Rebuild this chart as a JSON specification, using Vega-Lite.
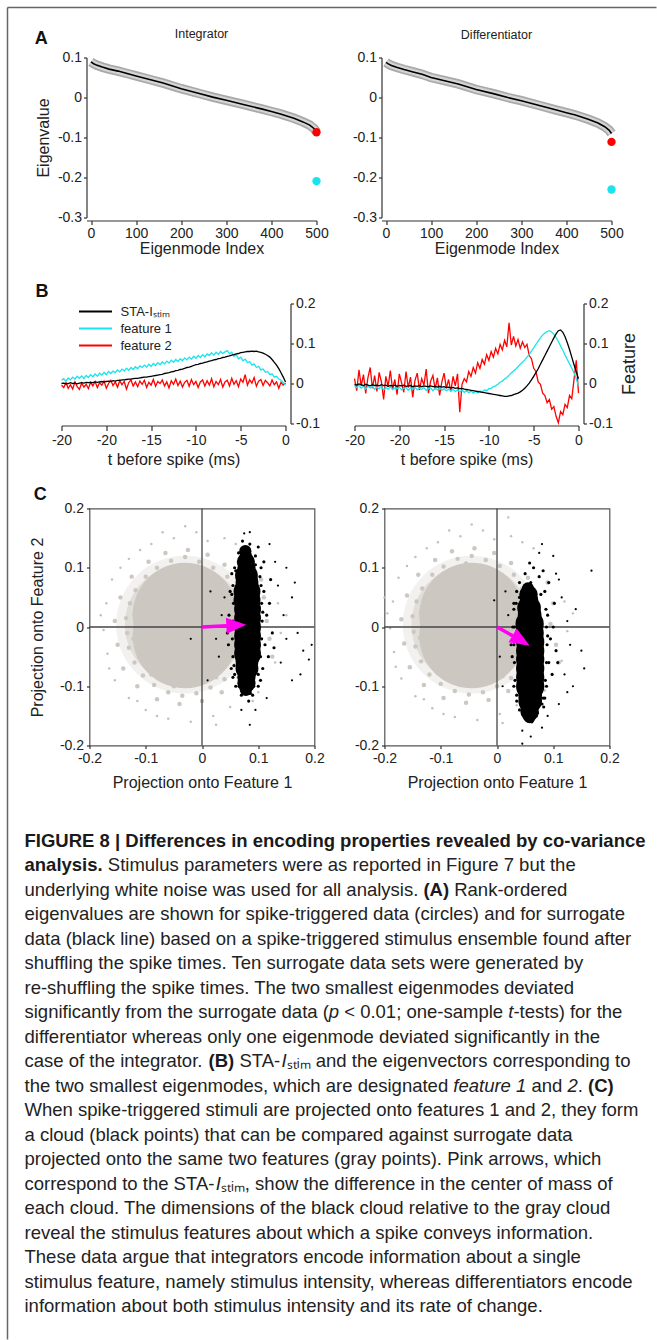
{
"$schema": "https://vega.github.io/schema/vega-lite/v6.json",
"padding": {"left": 6.5, "top": 6.5, "right": 0, "bottom": 0},
"background": "white",
"spacing": 0,
"bounds": "flush",
"resolve": {"scale": {"color": "independent"}, "legend": {"color": "independent"}},
"config": {
  "view": {"stroke": null},
  "font": "Liberation Sans",
  "axis": {"grid": false, "domainColor": "#333", "domainWidth": 1.2, "tickColor": "#333", "tickWidth": 1.2, "tickSize": 4, "labelFont": "Liberation Sans", "labelFontSize": 14, "labelColor": "#222", "labelPadding": 2, "labelFlush": false, "labelOverlap": false, "labelSeparation": 0, "titleFont": "Liberation Sans", "titleFontSize": 16, "titleFontWeight": "normal", "titleColor": "#222"},
  "axisY": {"labelOverlap": false},
  "axisQuantitative": {"labelOverlap": false},
  "title": {"font": "Liberation Sans", "color": "#222"},
  "legend": {"labelFont": "Liberation Sans"},
  "text": {"font": "Liberation Sans", "fontSize": 18.5, "align": "left", "baseline": "middle", "color": "#222"}
},
"hconcat": [
  {"width": 1, "height": 1332, "data": {"values": [{"d": 0}]}, "layer": [
    {"mark": {"type": "rule", "color": "#666", "strokeWidth": 1.5}, "encoding": {"x": {"datum": 0, "type": "quantitative", "scale": {"domain": [0, 1]}, "axis": null}}},
    {"mark": {"type": "rule", "color": "#666", "strokeWidth": 1.5}, "encoding": {"x": {"datum": 0, "type": "quantitative"}, "x2": {"datum": 649}, "y": {"datum": 1, "type": "quantitative", "scale": {"domain": [0, 1]}, "axis": null}}}
  ]},
  {"vconcat": [
    {"width": 1, "height": 1, "data": {"values": [{"d": 0}]}, "mark": {"type": "point", "opacity": 0, "size": 1}},

    {"hconcat": [
      {"width": 78, "height": 160, "data": {"values": [{"d": 0}]}, "layer": [
        {"mark": {"type": "rule", "opacity": 0, "strokeOpacity": 0}, "encoding": {"x": {"datum": 0, "type": "quantitative", "scale": {"domain": [0, 78]}, "axis": null}, "y": {"datum": -49, "type": "quantitative", "scale": {"domain": [0, 160], "reverse": true, "nice": false}, "axis": null}, "y2": {"datum": 206}}},
        {"mark": {"type": "text", "text": "A", "fontSize": 18, "fontWeight": "bold", "align": "left", "baseline": "middle", "color": "#111"}, "encoding": {"x": {"datum": 27, "type": "quantitative"}, "y": {"datum": -19, "type": "quantitative"}}}
      ]},
      {"width": 230, "height": 160,
       "title": {"text": "Integrator", "fontSize": 12.5, "fontWeight": "normal", "offset": 2, "anchor": "middle"},
       "data": {"values": "idx,eig\n0,0.089\n5,0.085\n12,0.081\n25,0.076\n40,0.071\n60,0.066\n80,0.060\n100,0.054\n130,0.045\n160,0.036\n200,0.022\n240,0.010\n270,0.001\n300,-0.007\n340,-0.018\n380,-0.029\n400,-0.035\n420,-0.041\n450,-0.052\n470,-0.061\n485,-0.069\n495,-0.078\n500,-0.086", "format": {"type": "csv", "parse": {"idx": "number", "eig": "number"}}},
       "layer": [
        {"mark": {"type": "line", "color": "#a9a9a9", "strokeWidth": 9.5},
         "encoding": {
          "x": {"field": "idx", "type": "quantitative", "scale": {"domain": [-10, 500], "nice": false, "zero": false}, "axis": {"values": [0, 100, 200, 300, 400, 500], "title": "Eigenmode Index", "offset": 3, "titlePadding": 0, "labelOverlap": false}},
          "y": {"field": "eig", "type": "quantitative", "scale": {"domain": [-0.3, 0.1], "nice": false, "zero": false}, "axis": {"tickCount": 5, "title": "Eigenvalue", "tickSize": 3, "titlePadding": 6, "labelOverlap": false, "labelSeparation": 0, "labelExpr": "(datum.value < 0 ? '-' : '') + format(abs(datum.value), '~g')"}}}},
        {"mark": {"type": "line", "color": "#d4d4d4", "strokeWidth": 6}, "encoding": {"x": {"field": "idx", "type": "quantitative"}, "y": {"field": "eig", "type": "quantitative"}}},
        {"mark": {"type": "line", "color": "#000", "strokeWidth": 1.6}, "encoding": {"x": {"field": "idx", "type": "quantitative"}, "y": {"field": "eig", "type": "quantitative"}}},
        {"data": {"values": [{"idx": 500, "eig": -0.087, "mode": "f2"}, {"idx": 500, "eig": -0.209, "mode": "f1"}]},
         "mark": {"type": "circle", "size": 70, "opacity": 1},
         "encoding": {"x": {"field": "idx", "type": "quantitative"}, "y": {"field": "eig", "type": "quantitative"}, "color": {"field": "mode", "type": "nominal", "scale": {"domain": ["sta", "f1", "f2"], "range": ["#000000", "#18e4ee", "#ff0000"]}, "legend": null}}}
       ]},
      {"width": 65, "height": 1, "data": {"values": [{"d": 0}]}, "mark": {"type": "point", "opacity": 0, "size": 1}},
      {"width": 230, "height": 160,
       "title": {"text": "Differentiator", "fontSize": 12.5, "fontWeight": "normal", "offset": 2, "anchor": "middle"},
       "data": {"values": "idx,eig\n0,0.088\n5,0.084\n12,0.080\n25,0.075\n40,0.070\n60,0.064\n80,0.058\n100,0.050\n130,0.042\n160,0.034\n200,0.020\n240,0.009\n270,0.000\n300,-0.008\n340,-0.020\n380,-0.032\n400,-0.038\n420,-0.044\n450,-0.055\n470,-0.064\n485,-0.073\n495,-0.082\n500,-0.090", "format": {"type": "csv", "parse": {"idx": "number", "eig": "number"}}},
       "layer": [
        {"mark": {"type": "line", "color": "#a9a9a9", "strokeWidth": 9.5},
         "encoding": {
          "x": {"field": "idx", "type": "quantitative", "scale": {"domain": [-10, 500], "nice": false, "zero": false}, "axis": {"values": [0, 100, 200, 300, 400, 500], "title": "Eigenmode Index", "offset": 3, "titlePadding": 0, "labelOverlap": false}},
          "y": {"field": "eig", "type": "quantitative", "scale": {"domain": [-0.3, 0.1], "nice": false, "zero": false}, "axis": {"tickCount": 5, "title": null, "tickSize": 3, "labelOverlap": false, "labelSeparation": 0, "labelExpr": "(datum.value < 0 ? '-' : '') + format(abs(datum.value), '~g')"}}}},
        {"mark": {"type": "line", "color": "#d4d4d4", "strokeWidth": 6}, "encoding": {"x": {"field": "idx", "type": "quantitative"}, "y": {"field": "eig", "type": "quantitative"}}},
        {"mark": {"type": "line", "color": "#000", "strokeWidth": 1.6}, "encoding": {"x": {"field": "idx", "type": "quantitative"}, "y": {"field": "eig", "type": "quantitative"}}},
        {"data": {"values": [{"idx": 500, "eig": -0.111, "mode": "f2"}, {"idx": 500, "eig": -0.230, "mode": "f1"}]},
         "mark": {"type": "circle", "size": 70, "opacity": 1},
         "encoding": {"x": {"field": "idx", "type": "quantitative"}, "y": {"field": "eig", "type": "quantitative"}, "color": {"field": "mode", "type": "nominal", "scale": {"domain": ["sta", "f1", "f2"], "range": ["#000000", "#18e4ee", "#ff0000"]}, "legend": null}}}
       ]}
    ], "spacing": 0, "bounds": "flush", "resolve": {"scale": {"color": "independent"}, "legend": {"color": "independent"}}},

    {"hconcat": [
      {"width": 53, "height": 120, "data": {"values": [{"d": 0}]}, "layer": [
        {"mark": {"type": "rule", "opacity": 0, "strokeOpacity": 0}, "encoding": {"x": {"datum": 0, "type": "quantitative", "scale": {"domain": [0, 53]}, "axis": null}, "y": {"datum": -40, "type": "quantitative", "scale": {"domain": [0, 120], "reverse": true, "nice": false}, "axis": null}, "y2": {"datum": 174}}},
        {"mark": {"type": "text", "text": "B", "fontSize": 18, "fontWeight": "bold", "align": "left", "baseline": "middle", "color": "#111"}, "encoding": {"x": {"datum": 28, "type": "quantitative"}, "y": {"datum": -12, "type": "quantitative"}}}
      ]},
      {"width": 224, "height": 120,
       "data": {"values": "t,sta,f1,f2\n-25,0.000,0.008,-0.004\n-24.75,0.001,0.012,-0.010\n-24.5,-0.001,0.006,0.002\n-24.25,0.000,0.014,-0.012\n-24,0.002,0.009,-0.003\n-23.75,0.000,0.016,-0.014\n-23.5,0.001,0.011,0.004\n-23.25,-0.001,0.018,-0.008\n-23,0.001,0.013,-0.015\n-22.75,0.002,0.019,0.001\n-22.5,0.001,0.012,-0.009\n-22.25,0.003,0.020,-0.002\n-22,0.002,0.015,-0.013\n-21.75,0.003,0.022,0.003\n-21.5,0.002,0.017,-0.006\n-21.25,0.004,0.024,0.005\n-21,0.003,0.018,-0.010\n-20.75,0.004,0.026,0.002\n-20.5,0.005,0.021,-0.004\n-20.25,0.004,0.028,0.006\n-20,0.005,0.022,-0.012\n-19.75,0.006,0.030,0.000\n-19.5,0.005,0.025,0.008\n-19.25,0.007,0.031,-0.005\n-19,0.006,0.027,0.004\n-18.75,0.008,0.034,-0.009\n-18.5,0.008,0.029,0.007\n-18.25,0.009,0.036,-0.003\n-18,0.009,0.031,0.005\n-17.75,0.010,0.038,-0.014\n-17.5,0.011,0.033,0.002\n-17.25,0.011,0.040,0.009\n-17,0.012,0.035,-0.006\n-16.75,0.013,0.042,0.004\n-16.5,0.013,0.037,-0.008\n-16.25,0.014,0.044,0.006\n-16,0.015,0.040,-0.002\n-15.75,0.016,0.046,0.008\n-15.5,0.016,0.041,-0.010\n-15.25,0.017,0.048,0.003\n-15,0.018,0.043,-0.004\n-14.75,0.019,0.050,0.010\n-14.5,0.020,0.045,-0.007\n-14.25,0.021,0.052,0.005\n-14,0.022,0.047,0.000\n-13.75,0.023,0.054,0.009\n-13.5,0.025,0.049,-0.006\n-13.25,0.026,0.056,0.004\n-13,0.027,0.051,-0.011\n-12.75,0.029,0.058,0.007\n-12.5,0.030,0.053,-0.002\n-12.25,0.032,0.060,0.011\n-12,0.033,0.055,-0.005\n-11.75,0.035,0.062,0.006\n-11.5,0.036,0.057,-0.009\n-11.25,0.038,0.064,0.003\n-11,0.040,0.059,0.008\n-10.75,0.041,0.066,-0.007\n-10.5,0.043,0.061,0.010\n-10.25,0.045,0.068,-0.003\n-10,0.047,0.063,0.005\n-9.75,0.048,0.070,-0.010\n-9.5,0.050,0.065,0.004\n-9.25,0.051,0.072,0.009\n-9,0.053,0.067,-0.006\n-8.75,0.054,0.074,0.007\n-8.5,0.056,0.070,-0.004\n-8.25,0.057,0.077,0.012\n-8,0.059,0.071,-0.008\n-7.75,0.060,0.078,0.005\n-7.5,0.062,0.073,-0.003\n-7.25,0.063,0.080,0.010\n-7,0.065,0.075,-0.009\n-6.75,0.066,0.079,0.004\n-6.5,0.068,0.082,0.008\n-6.25,0.069,0.074,-0.006\n-6,0.071,0.078,0.013\n-5.75,0.072,0.068,-0.002\n-5.5,0.074,0.072,0.007\n-5.25,0.075,0.062,-0.008\n-5,0.077,0.066,0.011\n-4.75,0.078,0.057,0.003\n-4.5,0.079,0.061,0.022\n-4.25,0.080,0.052,-0.004\n-4,0.080,0.055,0.009\n-3.75,0.081,0.046,0.001\n-3.5,0.080,0.049,0.015\n-3.25,0.081,0.040,-0.007\n-3,0.079,0.043,0.006\n-2.75,0.078,0.034,0.010\n-2.5,0.076,0.036,-0.005\n-2.25,0.073,0.028,0.008\n-2,0.070,0.030,0.002\n-1.75,0.066,0.022,-0.006\n-1.5,0.060,0.024,0.009\n-1.25,0.053,0.016,-0.003\n-1,0.046,0.018,0.004\n-0.75,0.037,0.011,-0.012\n-0.5,0.027,0.008,0.003\n-0.25,0.016,0.002,-0.004\n0,0.004,-0.004,0.001", "format": {"type": "csv", "parse": {"t": "number", "sta": "number", "f1": "number", "f2": "number"}}},
       "transform": [{"fold": ["f2", "f1", "sta"], "as": ["series", "v"]}],
       "mark": {"type": "line", "strokeWidth": 1.3},
       "encoding": {
        "x": {"field": "t", "type": "quantitative", "scale": {"domain": [-25, 0], "nice": false}, "axis": {"values": [-25, -20, -15, -10, -5, 0], "title": "t before spike (ms)", "offset": 2, "tickSize": 5, "labelPadding": 3, "titlePadding": 4, "labelOverlap": false, "labelExpr": "datum.value == -25 ? '-20' : (datum.value < 0 ? '-' : '') + format(abs(datum.value), '~g')"}},
        "y": {"field": "v", "type": "quantitative", "scale": {"domain": [-0.1, 0.2], "nice": false}, "axis": {"orient": "right", "values": [-0.1, 0, 0.1, 0.2], "title": null, "offset": 5, "tickSize": 3, "labelOverlap": false, "labelExpr": "(datum.value < 0 ? '-' : '') + format(abs(datum.value), '~g')"}},
        "color": {"field": "series", "type": "nominal", "scale": {"domain": ["sta", "f1", "f2"], "range": ["#000000", "#18e4ee", "#ff0000"]},
          "legend": {"orient": "none", "legendX": 27, "legendY": 1, "title": null, "symbolType": "M-3,0L3,0", "symbolSize": 121, "symbolStrokeWidth": 2.2, "labelFontSize": 13, "labelColor": "#222", "labelOffset": 18, "rowPadding": 3, "padding": 0, "labelExpr": "datum.value == 'sta' ? 'STA-Iₛₜᵢₘ' : datum.value == 'f1' ? 'feature 1' : 'feature 2'"}}
       }},
      {"width": 69, "height": 1, "data": {"values": [{"d": 0}]}, "mark": {"type": "point", "opacity": 0, "size": 1}},
      {"width": 224, "height": 120,
       "data": {"values": "t,sta,f1,f2\n-25,-0.002,-0.005,0.012\n-24.75,-0.004,-0.010,-0.018\n-24.5,-0.001,-0.004,0.034\n-24.25,-0.003,-0.012,-0.006\n-24,-0.005,-0.007,0.022\n-23.75,-0.002,-0.014,-0.025\n-23.5,-0.004,-0.006,0.015\n-23.25,-0.006,-0.011,0.040\n-23,-0.003,-0.008,-0.012\n-22.75,-0.005,-0.015,0.020\n-22.5,-0.004,-0.009,-0.020\n-22.25,-0.006,-0.013,0.028\n-22,-0.003,-0.007,0.005\n-21.75,-0.005,-0.016,-0.040\n-21.5,-0.004,-0.010,0.018\n-21.25,-0.007,-0.014,-0.008\n-21,-0.005,-0.008,0.032\n-20.75,-0.006,-0.015,-0.015\n-20.5,-0.004,-0.011,0.010\n-20.25,-0.007,-0.013,-0.028\n-20,-0.005,-0.009,0.024\n-19.75,-0.006,-0.016,0.002\n-19.5,-0.004,-0.012,-0.022\n-19.25,-0.007,-0.010,0.030\n-19,-0.006,-0.017,-0.010\n-18.75,-0.005,-0.011,0.016\n-18.5,-0.008,-0.014,-0.034\n-18.25,-0.006,-0.009,0.008\n-18,-0.007,-0.016,0.026\n-17.75,-0.005,-0.012,-0.016\n-17.5,-0.008,-0.015,0.012\n-17.25,-0.006,-0.010,-0.004\n-17,-0.007,-0.017,0.036\n-16.75,-0.008,-0.013,-0.024\n-16.5,-0.006,-0.011,0.006\n-16.25,-0.008,-0.018,0.020\n-16,-0.007,-0.012,-0.014\n-15.75,-0.009,-0.016,0.014\n-15.5,-0.007,-0.011,-0.030\n-15.25,-0.009,-0.017,0.004\n-15,-0.008,-0.013,0.026\n-14.75,-0.010,-0.018,-0.012\n-14.5,-0.009,-0.014,0.010\n-14.25,-0.011,-0.019,-0.020\n-14,-0.010,-0.015,0.018\n-13.75,-0.012,-0.020,-0.006\n-13.5,-0.011,-0.016,0.024\n-13.25,-0.013,-0.021,-0.072\n-13,-0.012,-0.017,-0.002\n-12.75,-0.014,-0.022,0.012\n-12.5,-0.015,-0.018,0.004\n-12.25,-0.016,-0.023,0.030\n-12,-0.017,-0.019,0.018\n-11.75,-0.018,-0.024,0.040\n-11.5,-0.019,-0.020,0.026\n-11.25,-0.020,-0.023,0.052\n-11,-0.021,-0.019,0.038\n-10.75,-0.022,-0.021,0.060\n-10.5,-0.023,-0.016,0.048\n-10.25,-0.024,-0.018,0.072\n-10,-0.025,-0.013,0.058\n-9.75,-0.026,-0.012,0.080\n-9.5,-0.027,-0.008,0.066\n-9.25,-0.028,-0.006,0.088\n-9,-0.029,-0.002,0.074\n-8.75,-0.030,0.003,0.098\n-8.5,-0.031,0.006,0.084\n-8.25,-0.032,0.011,0.108\n-8,-0.032,0.015,0.092\n-7.75,-0.031,0.021,0.152\n-7.5,-0.030,0.026,0.096\n-7.25,-0.028,0.031,0.118\n-7,-0.026,0.036,0.094\n-6.75,-0.024,0.042,0.110\n-6.5,-0.021,0.048,0.088\n-6.25,-0.017,0.053,0.104\n-6,-0.012,0.059,0.090\n-5.75,-0.006,0.066,0.098\n-5.5,0.001,0.073,0.070\n-5.25,0.009,0.081,0.062\n-5,0.018,0.089,0.038\n-4.75,0.027,0.098,0.030\n-4.5,0.037,0.106,0.004\n-4.25,0.048,0.114,-0.002\n-4,0.059,0.121,-0.024\n-3.75,0.070,0.126,-0.030\n-3.5,0.081,0.130,-0.048\n-3.25,0.092,0.132,-0.040\n-3,0.103,0.129,-0.064\n-2.75,0.114,0.123,-0.058\n-2.5,0.124,0.115,-0.082\n-2.25,0.132,0.105,-0.098\n-2,0.134,0.094,-0.070\n-1.75,0.128,0.083,-0.078\n-1.5,0.117,0.071,-0.052\n-1.25,0.102,0.060,-0.060\n-1,0.085,0.049,-0.030\n-0.75,0.066,0.038,-0.038\n-0.5,0.047,0.026,0.010\n-0.25,0.029,0.012,0.058\n0,0.012,-0.006,-0.024", "format": {"type": "csv", "parse": {"t": "number", "sta": "number", "f1": "number", "f2": "number"}}},
       "transform": [{"fold": ["f2", "f1", "sta"], "as": ["series", "v"]}],
       "mark": {"type": "line", "strokeWidth": 1.3},
       "encoding": {
        "x": {"field": "t", "type": "quantitative", "scale": {"domain": [-25, 0], "nice": false}, "axis": {"values": [-25, -20, -15, -10, -5, 0], "title": "t before spike (ms)", "offset": 2, "tickSize": 5, "labelPadding": 3, "titlePadding": 4, "labelOverlap": false, "labelExpr": "datum.value == -25 ? '-20' : (datum.value < 0 ? '-' : '') + format(abs(datum.value), '~g')"}},
        "y": {"field": "v", "type": "quantitative", "scale": {"domain": [-0.1, 0.2], "nice": false}, "axis": {"orient": "right", "values": [-0.1, 0, 0.1, 0.2], "title": "Feature", "titleAngle": 270, "titleBaseline": "top", "titlePadding": 8, "titleFontSize": 18, "offset": 5, "tickSize": 3, "labelOverlap": false, "labelExpr": "(datum.value < 0 ? '-' : '') + format(abs(datum.value), '~g')"}},
        "color": {"field": "series", "type": "nominal", "scale": {"domain": ["sta", "f1", "f2"], "range": ["#000000", "#18e4ee", "#ff0000"]}, "legend": null}
       }}
    ], "spacing": 0, "bounds": "flush", "resolve": {"scale": {"color": "independent"}, "legend": {"color": "independent"}}},

    {"hconcat": [
      {"width": 81, "height": 237, "data": {"values": [{"d": 0}]}, "layer": [
        {"mark": {"type": "rule", "opacity": 0, "strokeOpacity": 0}, "encoding": {"x": {"datum": 0, "type": "quantitative", "scale": {"domain": [0, 81]}, "axis": null}, "y": {"datum": -30, "type": "quantitative", "scale": {"domain": [0, 237], "reverse": true, "nice": false}, "axis": null}, "y2": {"datum": 295}}},
        {"mark": {"type": "text", "text": "C", "fontSize": 18, "fontWeight": "bold", "align": "left", "baseline": "middle", "color": "#111"}, "encoding": {"x": {"datum": 28, "type": "quantitative"}, "y": {"datum": -14, "type": "quantitative"}}}
      ]},
      {"width": 225, "height": 237, "view": {"stroke": "#555", "strokeWidth": 1.2},
       "layer": [
        {"data": {"values": "x,y\n-0.03,0.004", "format": {"type": "csv", "parse": {"x": "number", "y": "number"}}},
         "mark": {"type": "circle", "size": 19000, "color": "#ccc8c1", "opacity": 0.25},
         "encoding": {
          "x": {"field": "x", "type": "quantitative", "scale": {"domain": [-0.2, 0.2], "nice": false}, "axis": {"values": [-0.2, -0.1, 0, 0.1, 0.2], "title": "Projection onto Feature 1", "domain": false, "tickSize": 3, "labelPadding": 3, "titlePadding": 9, "labelOverlap": false, "labelExpr": "(datum.value < 0 ? '-' : '') + format(abs(datum.value), '~g')"}},
          "y": {"field": "y", "type": "quantitative", "scale": {"domain": [-0.2, 0.2], "nice": false}, "axis": {"values": [-0.2, -0.1, 0, 0.1, 0.2], "title": "Projection onto Feature 2", "domain": false, "tickSize": 3, "labelPadding": 3, "titlePadding": 14, "labelOverlap": false, "labelExpr": "(datum.value < 0 ? '-' : '') + format(abs(datum.value), '~g')"}}}},
        {"data": {"values": "x,y\n-0.03,0.004", "format": {"type": "csv", "parse": {"x": "number", "y": "number"}}},
         "mark": {"type": "circle", "size": 14500, "color": "#ccc8c1", "opacity": 0.45},
         "encoding": {"x": {"field": "x", "type": "quantitative"}, "y": {"field": "y", "type": "quantitative"}}},
        {"data": {"values": "x,y\n-0.03,0.02\n-0.03,-0.015", "format": {"type": "csv", "parse": {"x": "number", "y": "number"}}},
         "mark": {"type": "circle", "size": 11000, "color": "#ccc8c1", "opacity": 1},
         "encoding": {"x": {"field": "x", "type": "quantitative"}, "y": {"field": "y", "type": "quantitative"}}},
        {"data": {"values": "x,y\n0.06,0.06\n0.045,0.085\n0.02,0.1\n-0.005,0.11\n-0.03,0.118\n-0.055,0.112\n-0.08,0.1\n-0.1,0.085\n-0.118,0.062\n-0.128,0.04\n-0.135,0.015\n-0.133,-0.01\n-0.13,-0.035\n-0.12,-0.06\n-0.105,-0.082\n-0.085,-0.098\n-0.06,-0.11\n-0.035,-0.116\n-0.01,-0.112\n0.015,-0.102\n0.04,-0.088\n0.058,-0.065\n0.05,0.04\n0.03,0.08\n0,0.095\n-0.04,0.104\n-0.075,0.088\n-0.105,0.05\n-0.12,0.02\n-0.122,-0.02\n-0.112,-0.05\n-0.09,-0.08\n-0.05,-0.1\n-0.015,-0.098\n0.025,-0.085\n0.048,-0.045\n0.07,0.08\n0.04,0.105\n0.01,0.122\n-0.025,0.13\n-0.065,0.125\n-0.095,0.11\n-0.125,0.085\n-0.145,0.05\n-0.155,0.01\n-0.15,-0.03\n-0.14,-0.07\n-0.115,-0.1\n-0.08,-0.122\n-0.04,-0.13\n0,-0.125\n0.035,-0.11\n0.065,-0.085\n0.11,0.05\n0.12,-0.02\n0.115,0.01\n0.125,-0.05\n0.105,0.08", "format": {"type": "csv", "parse": {"x": "number", "y": "number"}}},
         "mark": {"type": "circle", "size": 20, "color": "#ccc8c1", "opacity": 1},
         "encoding": {"x": {"field": "x", "type": "quantitative"}, "y": {"field": "y", "type": "quantitative"}}},
        {"data": {"values": "x,y\n0.04,0.15\n-0.01,0.16\n-0.05,0.15\n-0.09,0.14\n-0.13,0.115\n-0.16,0.08\n-0.17,0.04\n-0.175,-0.005\n-0.168,-0.045\n-0.155,-0.09\n-0.13,-0.12\n-0.1,-0.14\n-0.06,-0.155\n-0.02,-0.16\n0.02,-0.15\n0.05,-0.135\n0.08,0.13\n0.06,0.14\n0.135,0.04\n0.14,-0.01\n0.13,-0.06\n0.1,-0.11\n-0.11,0.13\n-0.145,0.1\n-0.18,0.02\n-0.165,-0.07\n-0.08,-0.15\n0.01,0.145\n-0.03,0.17\n-0.115,-0.125\n0.15,0.02\n0.09,-0.125\n-0.07,0.16\n0.025,-0.165", "format": {"type": "csv", "parse": {"x": "number", "y": "number"}}},
         "mark": {"type": "circle", "size": 6, "color": "#c4c0b8", "opacity": 1},
         "encoding": {"x": {"field": "x", "type": "quantitative"}, "y": {"field": "y", "type": "quantitative"}}},
        {"data": {"values": [{"d": 0}]}, "mark": {"type": "rule", "color": "#444", "strokeWidth": 1.3}, "encoding": {"x": {"datum": 0, "type": "quantitative"}}},
        {"data": {"values": [{"d": 0}]}, "mark": {"type": "rule", "color": "#444", "strokeWidth": 1.3}, "encoding": {"y": {"datum": 0, "type": "quantitative"}}},
        {"data": {"values": "x,y\n0.081,-0.045\n0.081,-0.03\n0.081,-0.015\n0.081,0\n0.081,0.015\n0.081,0.03\n0.08,0.045\n0.08,0.06", "format": {"type": "csv", "parse": {"x": "number", "y": "number"}}},
         "mark": {"type": "circle", "size": 720, "color": "#000", "opacity": 1},
         "encoding": {"x": {"field": "x", "type": "quantitative"}, "y": {"field": "y", "type": "quantitative"}}},
        {"data": {"values": "x,y\n0.08,-0.07\n0.08,-0.058\n0.08,0.075\n0.079,0.087", "format": {"type": "csv", "parse": {"x": "number", "y": "number"}}},
         "mark": {"type": "circle", "size": 520, "color": "#000", "opacity": 1},
         "encoding": {"x": {"field": "x", "type": "quantitative"}, "y": {"field": "y", "type": "quantitative"}}},
        {"data": {"values": "x,y\n0.079,-0.085\n0.079,-0.095\n0.079,0.1\n0.078,0.11", "format": {"type": "csv", "parse": {"x": "number", "y": "number"}}},
         "mark": {"type": "circle", "size": 330, "color": "#000", "opacity": 1},
         "encoding": {"x": {"field": "x", "type": "quantitative"}, "y": {"field": "y", "type": "quantitative"}}},
        {"data": {"values": "x,y\n0.078,-0.106\n0.078,0.12\n0.077,0.128", "format": {"type": "csv", "parse": {"x": "number", "y": "number"}}},
         "mark": {"type": "circle", "size": 150, "color": "#000", "opacity": 1},
         "encoding": {"x": {"field": "x", "type": "quantitative"}, "y": {"field": "y", "type": "quantitative"}}},
        {"data": {"values": "x,y\n0.055,0.07\n0.056,0.04\n0.055,0.01\n0.054,-0.02\n0.055,-0.05\n0.058,-0.08\n0.06,0.095\n0.105,0.07\n0.106,0.04\n0.107,0.01\n0.106,-0.02\n0.104,-0.05\n0.1,-0.08\n0.095,0.105\n0.066,0.11\n0.092,-0.1\n0.066,-0.1\n0.084,0.12\n0.072,0.12\n0.086,-0.112\n0.053,0.055\n0.057,-0.065\n0.108,0.025\n0.103,0.085\n0.05,0.06\n0.048,0.02\n0.047,-0.03\n0.052,-0.07\n0.058,0.1\n0.06,-0.1\n0.105,0.1\n0.11,0.06\n0.115,0.02\n0.112,-0.03\n0.108,-0.07\n0.1,-0.1\n0.095,0.12\n0.065,0.125\n0.09,-0.115\n0.07,-0.115\n0.12,0.04\n0.125,-0.01\n0.118,-0.05\n0.053,0.09\n0.045,-0.01\n0.055,-0.085\n0.1,0.135\n0.085,0.14\n0.072,0.145\n0.11,0.11\n0.122,0.08\n0.128,-0.035\n0.104,-0.09\n0.083,-0.125", "format": {"type": "csv", "parse": {"x": "number", "y": "number"}}},
         "mark": {"type": "circle", "size": 10, "color": "#000", "opacity": 1},
         "encoding": {"x": {"field": "x", "type": "quantitative"}, "y": {"field": "y", "type": "quantitative"}}},
        {"data": {"values": "x,y\n0.135,0.07\n0.145,0.02\n0.15,-0.02\n0.14,-0.06\n0.16,0.05\n0.17,-0.01\n0.18,-0.04\n0.19,-0.055\n0.175,-0.08\n0.15,0.1\n0.13,0.11\n0.085,0.16\n0.075,0.158\n0.12,0.14\n0.04,0.05\n0.03,-0.05\n0.015,0.06\n0.01,-0.09\n-0.02,-0.02\n0.07,-0.14\n0.085,-0.165\n0.095,-0.14\n0.115,-0.12\n0.16,-0.09\n0.195,-0.03\n0.165,0.075\n0.035,0.02\n0.025,-0.02", "format": {"type": "csv", "parse": {"x": "number", "y": "number"}}},
         "mark": {"type": "circle", "size": 5, "color": "#000", "opacity": 1},
         "encoding": {"x": {"field": "x", "type": "quantitative"}, "y": {"field": "y", "type": "quantitative"}}},
        {"data": {"values": [{"x": 0, "y": 0, "x2": 0.044, "y2": 0.002}]},
         "mark": {"type": "rule", "color": "#ff00f0", "strokeWidth": 3.5},
         "encoding": {"x": {"field": "x", "type": "quantitative"}, "y": {"field": "y", "type": "quantitative"}, "x2": {"field": "x2"}, "y2": {"field": "y2"}}},
        {"data": {"values": [{"x": 0.061, "y": 0.003}]},
         "mark": {"type": "point", "shape": "M1,0L-1,-0.8L-1,0.8Z", "size": 400, "filled": true, "color": "#ff00f0", "opacity": 1, "angle": -3, "strokeWidth": 0},
         "encoding": {"x": {"field": "x", "type": "quantitative"}, "y": {"field": "y", "type": "quantitative"}}}
       ]},
      {"width": 70, "height": 1, "data": {"values": [{"d": 0}]}, "mark": {"type": "point", "opacity": 0, "size": 1}},
      {"width": 225, "height": 237, "view": {"stroke": "#555", "strokeWidth": 1.2},
       "layer": [
        {"data": {"values": "x,y\n-0.045,0.004", "format": {"type": "csv", "parse": {"x": "number", "y": "number"}}},
         "mark": {"type": "circle", "size": 19000, "color": "#ccc8c1", "opacity": 0.25},
         "encoding": {
          "x": {"field": "x", "type": "quantitative", "scale": {"domain": [-0.2, 0.2], "nice": false}, "axis": {"values": [-0.2, -0.1, 0, 0.1, 0.2], "title": "Projection onto Feature 1", "domain": false, "tickSize": 3, "labelPadding": 3, "titlePadding": 9, "labelOverlap": false, "labelExpr": "(datum.value < 0 ? '-' : '') + format(abs(datum.value), '~g')"}},
          "y": {"field": "y", "type": "quantitative", "scale": {"domain": [-0.2, 0.2], "nice": false}, "axis": {"values": [-0.2, -0.1, 0, 0.1, 0.2], "title": null, "domain": false, "tickSize": 3, "labelPadding": 3, "labelOverlap": false, "labelExpr": "(datum.value < 0 ? '-' : '') + format(abs(datum.value), '~g')"}}}},
        {"data": {"values": "x,y\n-0.045,0.004", "format": {"type": "csv", "parse": {"x": "number", "y": "number"}}},
         "mark": {"type": "circle", "size": 14500, "color": "#ccc8c1", "opacity": 0.45},
         "encoding": {"x": {"field": "x", "type": "quantitative"}, "y": {"field": "y", "type": "quantitative"}}},
        {"data": {"values": "x,y\n-0.045,0.02\n-0.045,-0.015", "format": {"type": "csv", "parse": {"x": "number", "y": "number"}}},
         "mark": {"type": "circle", "size": 11000, "color": "#ccc8c1", "opacity": 1},
         "encoding": {"x": {"field": "x", "type": "quantitative"}, "y": {"field": "y", "type": "quantitative"}}},
        {"data": {"values": "x,y\n0.045,0.065\n0.03,0.088\n0.005,0.103\n-0.02,0.113\n-0.045,0.12\n-0.07,0.115\n-0.095,0.102\n-0.115,0.088\n-0.133,0.065\n-0.143,0.043\n-0.15,0.018\n-0.148,-0.008\n-0.145,-0.033\n-0.135,-0.058\n-0.12,-0.08\n-0.1,-0.096\n-0.075,-0.108\n-0.05,-0.114\n-0.025,-0.11\n0,-0.1\n0.025,-0.086\n0.043,-0.063\n0.035,0.045\n0.015,0.083\n-0.015,0.098\n-0.055,0.107\n-0.09,0.091\n-0.12,0.053\n-0.135,0.023\n-0.137,-0.018\n-0.127,-0.048\n-0.105,-0.078\n-0.065,-0.098\n-0.03,-0.096\n0.01,-0.083\n0.033,-0.043\n0.055,0.083\n0.025,0.108\n-0.005,0.125\n-0.04,0.133\n-0.08,0.128\n-0.11,0.113\n-0.14,0.088\n-0.16,0.053\n-0.17,0.013\n-0.165,-0.028\n-0.155,-0.068\n-0.13,-0.098\n-0.095,-0.12\n-0.055,-0.128\n-0.015,-0.123\n0.02,-0.108\n0.05,-0.083\n0.1,0.04\n0.105,-0.03\n0.095,0.005\n0.11,-0.06\n0.09,0.075", "format": {"type": "csv", "parse": {"x": "number", "y": "number"}}},
         "mark": {"type": "circle", "size": 20, "color": "#ccc8c1", "opacity": 1},
         "encoding": {"x": {"field": "x", "type": "quantitative"}, "y": {"field": "y", "type": "quantitative"}}},
        {"data": {"values": "x,y\n0.025,0.153\n-0.025,0.163\n-0.065,0.153\n-0.105,0.143\n-0.145,0.118\n-0.175,0.083\n-0.185,0.043\n-0.19,-0.002\n-0.183,-0.042\n-0.17,-0.087\n-0.145,-0.117\n-0.115,-0.137\n-0.075,-0.152\n-0.035,-0.157\n0.005,-0.147\n0.035,-0.132\n0.065,0.133\n0.045,0.143\n0.12,0.043\n0.125,-0.007\n0.115,-0.057\n0.085,-0.107\n-0.125,0.133\n-0.16,0.103\n-0.195,0.023\n-0.18,-0.067\n-0.095,-0.147\n-0.005,0.148\n-0.045,0.173\n-0.13,-0.122\n0.135,0.023\n0.075,-0.122\n-0.085,0.163\n0.01,-0.162\n0.02,0.185\n-0.2,0.05", "format": {"type": "csv", "parse": {"x": "number", "y": "number"}}},
         "mark": {"type": "circle", "size": 6, "color": "#c4c0b8", "opacity": 1},
         "encoding": {"x": {"field": "x", "type": "quantitative"}, "y": {"field": "y", "type": "quantitative"}}},
        {"data": {"values": [{"d": 0}]}, "mark": {"type": "rule", "color": "#444", "strokeWidth": 1.3}, "encoding": {"x": {"datum": 0, "type": "quantitative"}}},
        {"data": {"values": [{"d": 0}]}, "mark": {"type": "rule", "color": "#444", "strokeWidth": 1.3}, "encoding": {"y": {"datum": 0, "type": "quantitative"}}},
        {"data": {"values": "x,y\n0.059,-0.1\n0.059,-0.085\n0.059,-0.07\n0.059,-0.055\n0.059,-0.04\n0.059,-0.025\n0.058,-0.01\n0.058,0.005", "format": {"type": "csv", "parse": {"x": "number", "y": "number"}}},
         "mark": {"type": "circle", "size": 800, "color": "#000", "opacity": 1},
         "encoding": {"x": {"field": "x", "type": "quantitative"}, "y": {"field": "y", "type": "quantitative"}}},
        {"data": {"values": "x,y\n0.059,-0.115\n0.059,-0.125\n0.058,0.02\n0.057,0.032", "format": {"type": "csv", "parse": {"x": "number", "y": "number"}}},
         "mark": {"type": "circle", "size": 560, "color": "#000", "opacity": 1},
         "encoding": {"x": {"field": "x", "type": "quantitative"}, "y": {"field": "y", "type": "quantitative"}}},
        {"data": {"values": "x,y\n0.058,-0.135\n0.058,-0.143\n0.057,0.045\n0.056,0.055", "format": {"type": "csv", "parse": {"x": "number", "y": "number"}}},
         "mark": {"type": "circle", "size": 340, "color": "#000", "opacity": 1},
         "encoding": {"x": {"field": "x", "type": "quantitative"}, "y": {"field": "y", "type": "quantitative"}}},
        {"data": {"values": "x,y\n0.058,-0.152\n0.055,0.065", "format": {"type": "csv", "parse": {"x": "number", "y": "number"}}},
         "mark": {"type": "circle", "size": 150, "color": "#000", "opacity": 1},
         "encoding": {"x": {"field": "x", "type": "quantitative"}, "y": {"field": "y", "type": "quantitative"}}},
        {"data": {"values": "x,y\n0.03,0.03\n0.031,0\n0.03,-0.03\n0.031,-0.06\n0.032,-0.09\n0.035,-0.115\n0.04,0.05\n0.087,0.03\n0.088,0\n0.089,-0.03\n0.088,-0.06\n0.086,-0.09\n0.082,-0.12\n0.078,0.055\n0.045,-0.14\n0.072,-0.145\n0.06,0.075\n0.083,-0.135\n0.034,0.04\n0.09,-0.015\n0.03,0.04\n0.028,0\n0.027,-0.05\n0.03,-0.1\n0.04,0.075\n0.04,-0.14\n0.085,0.06\n0.09,0.02\n0.095,-0.02\n0.092,-0.06\n0.088,-0.1\n0.08,-0.13\n0.075,0.085\n0.05,0.09\n0.07,-0.15\n0.05,-0.155\n0.1,0\n0.105,-0.04\n0.098,-0.08\n0.035,0.06\n0.025,-0.03\n0.035,-0.125\n0.082,0.095\n0.065,0.1\n0.058,0.108\n0.092,0.075\n0.102,0.04\n0.108,-0.06\n0.085,-0.12\n0.062,-0.16", "format": {"type": "csv", "parse": {"x": "number", "y": "number"}}},
         "mark": {"type": "circle", "size": 10, "color": "#000", "opacity": 1},
         "encoding": {"x": {"field": "x", "type": "quantitative"}, "y": {"field": "y", "type": "quantitative"}}},
        {"data": {"values": "x,y\n0.115,0.05\n0.125,0.01\n0.13,-0.03\n0.12,-0.08\n0.14,0.03\n0.15,-0.04\n0.155,-0.07\n0.11,0.08\n0.1,0.12\n0.08,0.14\n0.075,0.125\n0.105,0.09\n0.015,0.06\n0.005,-0.05\n-0.005,0.045\n0.045,-0.175\n0.06,-0.185\n0.08,-0.17\n0.09,-0.15\n0.135,-0.1\n0.168,0.095\n0.045,-0.197\n0.02,0.02\n0.01,-0.1\n0.11,-0.13\n0.125,-0.11", "format": {"type": "csv", "parse": {"x": "number", "y": "number"}}},
         "mark": {"type": "circle", "size": 5, "color": "#000", "opacity": 1},
         "encoding": {"x": {"field": "x", "type": "quantitative"}, "y": {"field": "y", "type": "quantitative"}}},
        {"data": {"values": [{"x": 0, "y": 0, "x2": 0.028, "y2": -0.015}]},
         "mark": {"type": "rule", "color": "#ff00f0", "strokeWidth": 3.5},
         "encoding": {"x": {"field": "x", "type": "quantitative"}, "y": {"field": "y", "type": "quantitative"}, "x2": {"field": "x2"}, "y2": {"field": "y2"}}},
        {"data": {"values": [{"x": 0.043, "y": -0.023}]},
         "mark": {"type": "point", "shape": "M1,0L-1,-0.8L-1,0.8Z", "size": 400, "filled": true, "color": "#ff00f0", "opacity": 1, "angle": 31, "strokeWidth": 0},
         "encoding": {"x": {"field": "x", "type": "quantitative"}, "y": {"field": "y", "type": "quantitative"}}}
       ]}
    ], "spacing": 0, "bounds": "flush"},

    {"hconcat": [
      {"width": 16, "height": 490, "data": {"values": [{"d": 0}]}, "mark": {"type": "rule", "opacity": 0, "strokeOpacity": 0}, "encoding": {"x": {"datum": 0, "type": "quantitative", "scale": {"domain": [0, 16]}, "axis": null}, "y": {"datum": -25, "type": "quantitative", "scale": {"domain": [0, 490], "reverse": true, "nice": false}, "axis": null}, "y2": {"datum": 512}}},
      {"width": 615, "height": 490,
       "encoding": {"x": {"datum": 0, "type": "quantitative", "scale": {"domain": [0, 1], "nice": false}, "axis": null}, "y": {"field": "line", "type": "quantitative", "scale": {"domain": [0.5, 20.5], "reverse": true, "nice": false, "zero": false}, "axis": null}, "text": {"field": "text"}},
       "layer": [
        {"data": {"values": [{"line": 1, "text": "FIGURE 8 | Differences in encoding properties revealed by co-variance"}, {"line": 2, "text": "analysis."}]},
         "mark": {"type": "text", "fontWeight": "bold", "color": "#1a1a1a"}},
        {"data": {"values": [{"line": 3, "text": "(A)"}]}, "mark": {"type": "text", "fontWeight": "bold", "color": "#1a1a1a", "dx": 398.9}},
        {"data": {"values": [{"line": 10, "text": "(B)"}]}, "mark": {"type": "text", "fontWeight": "bold", "color": "#1a1a1a", "dx": 184.1}},
        {"data": {"values": [{"line": 11, "text": "(C)"}]}, "mark": {"type": "text", "fontWeight": "bold", "color": "#1a1a1a", "dx": 563.5}},
        {"data": {"values": [{"line": 8, "text": "p"}]}, "mark": {"type": "text", "fontStyle": "italic", "dx": 304.3}},
        {"data": {"values": [{"line": 8, "text": "t"}]}, "mark": {"type": "text", "fontStyle": "italic", "dx": 483.8}},
        {"data": {"values": [{"line": 11, "text": "feature 1"}]}, "mark": {"type": "text", "fontStyle": "italic", "dx": 428.8}},
        {"data": {"values": [{"line": 11, "text": "2"}]}, "mark": {"type": "text", "fontStyle": "italic", "dx": 542.9}},
        {"data": {"values": [{"line": 10, "text": "I"}]}, "mark": {"type": "text", "fontStyle": "italic", "dx": 257.0}},
        {"data": {"values": [{"line": 15, "text": "I"}]}, "mark": {"type": "text", "fontStyle": "italic", "dx": 191.3}},
        {"data": {"values": [{"line": 2, "text": "Stimulus parameters were as reported in Figure 7 but the"}]}, "mark": {"type": "text", "dx": 83.3}},
        {"data": {"values": [{"line": 3, "text": "Rank-ordered"}]}, "mark": {"type": "text", "dx": 429.7}},
        {"data": {"values": [{"line": 10, "text": "STA-"}]}, "mark": {"type": "text", "dx": 214.9}},
        {"data": {"values": [{"line": 10, "text": "ₛₜᵢₘ and the eigenvectors corresponding to"}]}, "mark": {"type": "text", "dx": 262.2}},
        {"data": {"values": [{"line": 15, "text": "ₛₜᵢₘ, show the difference in the center of mass of"}]}, "mark": {"type": "text", "dx": 196.4}},
        {"data": {"values": [{"line": 8, "text": "< 0.01; one-sample"}]}, "mark": {"type": "text", "dx": 319.7}},
        {"data": {"values": [{"line": 8, "text": "-tests) for the"}]}, "mark": {"type": "text", "dx": 488.9}},
        {"data": {"values": [{"line": 11, "text": "and"}]}, "mark": {"type": "text", "dx": 506.9}},
        {"data": {"values": [{"line": 11, "text": "."}]}, "mark": {"type": "text", "dx": 553.2}},
        {"data": {"values": [
          {"line": 3, "text": "underlying white noise was used for all analysis."},
          {"line": 4, "text": "eigenvalues are shown for spike-triggered data (circles) and for surrogate"},
          {"line": 5, "text": "data (black line) based on a spike-triggered stimulus ensemble found after"},
          {"line": 6, "text": "shuffling the spike times. Ten surrogate data sets were generated by"},
          {"line": 7, "text": "re-shuffling the spike times. The two smallest eigenmodes deviated"},
          {"line": 8, "text": "significantly from the surrogate data ("},
          {"line": 9, "text": "differentiator whereas only one eigenmode deviated significantly in the"},
          {"line": 10, "text": "case of the integrator."},
          {"line": 11, "text": "the two smallest eigenmodes, which are designated"},
          {"line": 12, "text": "When spike-triggered stimuli are projected onto features 1 and 2, they form"},
          {"line": 13, "text": "a cloud (black points) that can be compared against surrogate data"},
          {"line": 14, "text": "projected onto the same two features (gray points). Pink arrows, which"},
          {"line": 15, "text": "correspond to the STA-"},
          {"line": 16, "text": "each cloud. The dimensions of the black cloud relative to the gray cloud"},
          {"line": 17, "text": "reveal the stimulus features about which a spike conveys information."},
          {"line": 18, "text": "These data argue that integrators encode information about a single"},
          {"line": 19, "text": "stimulus feature, namely stimulus intensity, whereas differentiators encode"},
          {"line": 20, "text": "information about both stimulus intensity and its rate of change."}
         ]},
         "mark": {"type": "text"}}
       ]}
    ], "spacing": 0, "bounds": "flush"}
  ], "spacing": 0, "resolve": {"scale": {"color": "independent"}, "legend": {"color": "independent"}}}
]
}
